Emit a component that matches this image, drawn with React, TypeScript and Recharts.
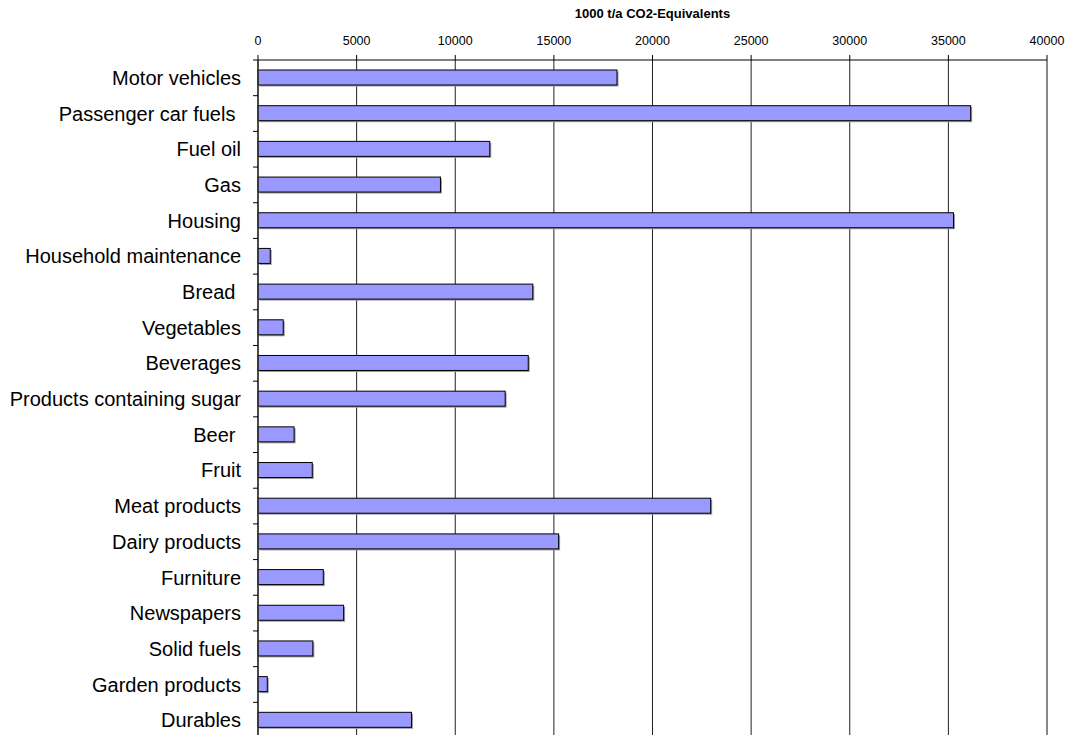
import { BarChart, Bar, XAxis, YAxis, CartesianGrid, ReferenceLine, Label } from 'recharts';

const categories = [
  'Motor vehicles',
  'Passenger car fuels ',
  'Fuel oil',
  'Gas',
  'Housing',
  'Household maintenance',
  'Bread ',
  'Vegetables',
  'Beverages',
  'Products containing sugar',
  'Beer ',
  'Fruit',
  'Meat products',
  'Dairy products',
  'Furniture',
  'Newspapers',
  'Solid fuels',
  'Garden products',
  'Durables',
];

const emissions = [
  18200, 36130, 11750, 9250, 35260, 620, 13930, 1280, 13700, 12530,
  1830, 2750, 22950, 15240, 3310, 4340, 2780, 470, 7780,
];

const xTicks = [0, 5000, 10000, 15000, 20000, 25000, 30000, 35000, 40000];

const WIDTH = 1069;
const HEIGHT = 740;
const MARGIN = { top: 0, right: 22, left: 0, bottom: 2 };
const X_AXIS_HEIGHT = 60;
const Y_AXIS_WIDTH = 258;
const FONT = '"Liberation Sans", Arial, sans-serif';

const data = categories.map((name, i) => ({ name, value: emissions[i] }));

const BAND = (HEIGHT - MARGIN.top - MARGIN.bottom - X_AXIS_HEIGHT) / categories.length;

const CategoryTick = (props: any) => {
  const { y, payload } = props;
  const axisX = MARGIN.left + Y_AXIS_WIDTH;
  const top = y - BAND / 2;
  return (
    <g>
      <line x1={axisX - 5} x2={axisX} y1={top} y2={top} stroke="#000" strokeWidth={1} />
      <text
        x={axisX - 17}
        y={y}
        dy="0.355em"
        textAnchor="end"
        fontSize={20}
        fontFamily={FONT}
        fill="#000"
        style={{ whiteSpace: 'pre' }}
      >
        {payload.value}
      </text>
    </g>
  );
};

const ShadowBar = (props: any) => {
  const { x, y, width, height } = props;
  if (!width || width <= 0) return null;
  return (
    <g>
      <rect x={x + 1.5} y={y + 1.5} width={width} height={height} fill="#9a9a9a" />
      <rect x={x} y={y} width={width} height={height} fill="#9999FF" stroke="#000" strokeWidth={1} />
    </g>
  );
};

export default function App() {
  return (
    <div style={{ position: 'fixed', top: 0, left: 0, width: WIDTH, height: 735, overflow: 'hidden', background: '#fff' }}>
      <BarChart
        width={WIDTH}
        height={HEIGHT}
        data={data}
        layout="vertical"
        margin={MARGIN}
        barCategoryGap={0}
      >
        <CartesianGrid horizontal={false} vertical={true} stroke="#222" strokeWidth={1} />
        <XAxis
          type="number"
          orientation="top"
          domain={[0, 40000]}
          ticks={xTicks}
          interval={0}
          height={X_AXIS_HEIGHT}
          tick={{ fontSize: 12.5, fill: '#000', fontFamily: FONT }}
          tickSize={5}
          tickMargin={10}
          axisLine={{ stroke: '#000' }}
          tickLine={{ stroke: '#000' }}
        >
          <Label
            value="1000 t/a CO2-Equivalents"
            position="insideTop"
            offset={9}
            style={{ fontSize: 13, fontWeight: 'bold', fill: '#000', fontFamily: FONT }}
          />
        </XAxis>
        <YAxis
          type="category"
          dataKey="name"
          width={Y_AXIS_WIDTH}
          interval={0}
          tickLine={false}
          axisLine={{ stroke: '#333', strokeWidth: 1.5 }}
          tick={<CategoryTick />}
        />
        <ReferenceLine x={40000} stroke="#888" strokeWidth={2} />
        <Bar dataKey="value" barSize={15} shape={<ShadowBar />} isAnimationActive={false} />
      </BarChart>
    </div>
  );
}
